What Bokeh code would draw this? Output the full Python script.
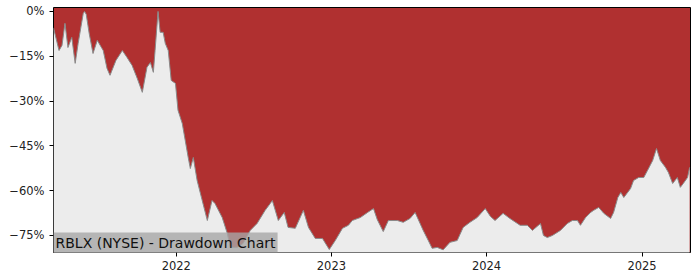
import pandas as pd
from bokeh.plotting import figure
from bokeh.models import Range1d, FixedTicker, DatetimeTickFormatter, Label, ColumnDataSource
from bokeh.embed import file_html
from bokeh.resources import INLINE

dates = [
    "2021-03-18", "2021-03-31", "2021-04-07", "2021-04-14", "2021-04-21", "2021-04-30",
    "2021-05-08", "2021-05-15", "2021-05-27", "2021-05-30", "2021-06-03", "2021-06-10",
    "2021-06-19", "2021-06-29", "2021-07-13", "2021-07-22", "2021-07-29", "2021-08-12",
    "2021-08-27", "2021-09-07", "2021-09-19", "2021-10-01", "2021-10-13", "2021-10-24",
    "2021-11-01", "2021-11-08", "2021-11-12", "2021-11-19", "2021-11-24", "2021-12-01",
    "2021-12-06", "2021-12-13", "2021-12-20", "2021-12-30", "2022-01-05", "2022-01-15",
    "2022-01-22", "2022-01-29", "2022-02-03", "2022-02-10", "2022-02-19", "2022-03-03",
    "2022-03-15", "2022-03-26", "2022-04-02", "2022-04-19", "2022-05-01", "2022-05-08",
    "2022-05-24", "2022-06-07", "2022-06-24", "2022-07-10", "2022-07-29", "2022-08-10",
    "2022-08-15", "2022-08-29", "2022-09-12", "2022-09-21", "2022-10-08", "2022-10-27",
    "2022-11-08", "2022-11-24", "2022-12-11", "2022-12-27", "2023-01-10", "2023-01-27",
    "2023-02-10", "2023-02-19", "2023-03-10", "2023-03-27", "2023-04-10", "2023-04-19",
    "2023-05-03", "2023-05-15", "2023-06-05", "2023-06-19", "2023-07-05", "2023-07-17",
    "2023-08-05", "2023-08-17", "2023-08-26", "2023-09-07", "2023-09-21", "2023-10-07",
    "2023-10-24", "2023-11-07", "2023-11-23", "2023-12-10", "2023-12-29", "2024-01-10",
    "2024-01-21", "2024-02-09", "2024-02-25", "2024-03-20", "2024-04-06", "2024-04-18",
    "2024-05-07", "2024-05-14", "2024-05-23", "2024-06-04", "2024-06-23", "2024-07-09",
    "2024-07-21", "2024-08-02", "2024-08-09", "2024-08-21", "2024-09-02", "2024-09-09",
    "2024-09-21", "2024-10-03", "2024-10-19", "2024-10-26", "2024-11-05", "2024-11-12",
    "2024-11-19", "2024-12-05", "2024-12-12", "2024-12-24", "2025-01-05", "2025-01-14",
    "2025-01-26", "2025-02-04", "2025-02-13", "2025-02-25", "2025-03-04", "2025-03-14",
    "2025-03-25", "2025-04-01", "2025-04-08", "2025-04-18", "2025-04-23",
]
drawdown = [
    -5.5, -13.1, -11.4, -4.0, -12.1, -8.7,
    -17.4, -10.7, -0.7, 0.0, -1.0, -7.4,
    -14.1, -9.7, -13.1, -19.1, -21.4, -16.4,
    -13.1, -15.4, -18.1, -22.4, -27.1, -18.7,
    -17.1, -20.4, -13.1, 0.0, -7.0, -7.0,
    -10.7, -13.1, -23.1, -24.1, -33.1, -37.5,
    -43.2, -48.9, -52.6, -48.9, -56.6, -63.3,
    -70.0, -63.3, -64.3, -69.0, -74.3, -79.0,
    -79.0, -77.7, -73.3, -71.0, -66.6, -64.3,
    -63.3, -70.0, -67.3, -72.3, -72.6, -66.6,
    -72.3, -76.0, -76.0, -79.7, -76.7, -72.6,
    -71.6, -70.0, -69.0, -67.3, -66.0, -69.7,
    -73.7, -70.0, -70.0, -70.6, -69.3, -67.3,
    -73.3, -76.7, -79.3, -79.0, -79.8, -77.3,
    -76.7, -72.3, -70.6, -69.0, -66.0, -68.6,
    -70.0, -67.6, -69.3, -71.6, -71.6, -73.3,
    -71.0, -75.0, -75.7, -75.0, -73.3, -71.0,
    -70.0, -70.0, -71.6, -69.0, -67.3, -66.6,
    -65.6, -67.6, -69.3, -67.3, -62.3, -60.6,
    -62.3, -59.3, -56.6, -55.6, -55.6, -53.2,
    -49.9, -45.9, -49.9, -52.2, -53.9, -57.6,
    -55.6, -58.9, -57.6, -55.6, -52.2,
]
y_ticks = [0, -15, -30, -45, -60, -75]
y_tick_labels = ["0%", "\u221215%", "\u221230%", "\u221245%", "\u221260%", "\u221275%"]
x_tick_dates = ["2022-01-01", "2023-01-01", "2024-01-01", "2025-01-01"]
title_text = "RBLX (NYSE) - Drawdown Chart"
x_start, x_end = "2021-03-18", "2025-04-25"
y_min, y_max = -80.7, 1.3

dt = pd.to_datetime(dates)
src = ColumnDataSource(dict(x=dt, dd=drawdown, base=[y_min - 10] * len(drawdown)))

p = figure(width=700, height=280, output_backend="svg", toolbar_location=None,
           x_axis_type="datetime",
           x_range=Range1d(pd.Timestamp(x_start), pd.Timestamp(x_end)),
           y_range=Range1d(y_min, y_max),
           min_border_left=53, min_border_right=10, min_border_top=7, min_border_bottom=28)
p.background_fill_color = "#b03030"
p.border_fill_color = "white"
p.outline_line_color = "black"
p.outline_line_width = 1
p.grid.visible = False

p.varea(x="x", y1="base", y2="dd", source=src, fill_color="#ececec")
p.line(x="x", y="dd", source=src, line_color="#8a8a8a", line_width=1)

p.yaxis.ticker = FixedTicker(ticks=y_ticks)
p.yaxis.major_label_overrides = {t: l for t, l in zip(y_ticks, y_tick_labels)}
tick_ms = [pd.Timestamp(d).value // 10**6 for d in x_tick_dates]
p.xaxis.ticker = FixedTicker(ticks=tick_ms)
p.xaxis.formatter = DatetimeTickFormatter(years="%Y", months="%Y", days="%Y", hours="%Y")

for ax in (p.xaxis[0], p.yaxis[0]):
    ax.major_label_text_font = "DejaVu Sans"
    ax.major_label_text_font_size = "11.5px"
    ax.major_label_text_color = "#222222"
    ax.axis_line_color = None
    ax.major_tick_line_color = "black"
    ax.major_tick_out = 4
    ax.major_tick_in = 0
    ax.minor_tick_line_color = None
p.yaxis.major_label_standoff = 5
p.xaxis.major_label_standoff = 4

lbl = Label(x=pd.Timestamp(x_start), y=y_min, text=title_text, x_offset=0, y_offset=0,
            text_font="DejaVu Sans", text_font_size="14px", text_color="#111111",
            text_baseline="bottom", text_align="left",
            background_fill_color="#a8a8a8", background_fill_alpha=0.8, padding=2)
p.add_layout(lbl)

open("out.html", "w").write(file_html(p, INLINE))
